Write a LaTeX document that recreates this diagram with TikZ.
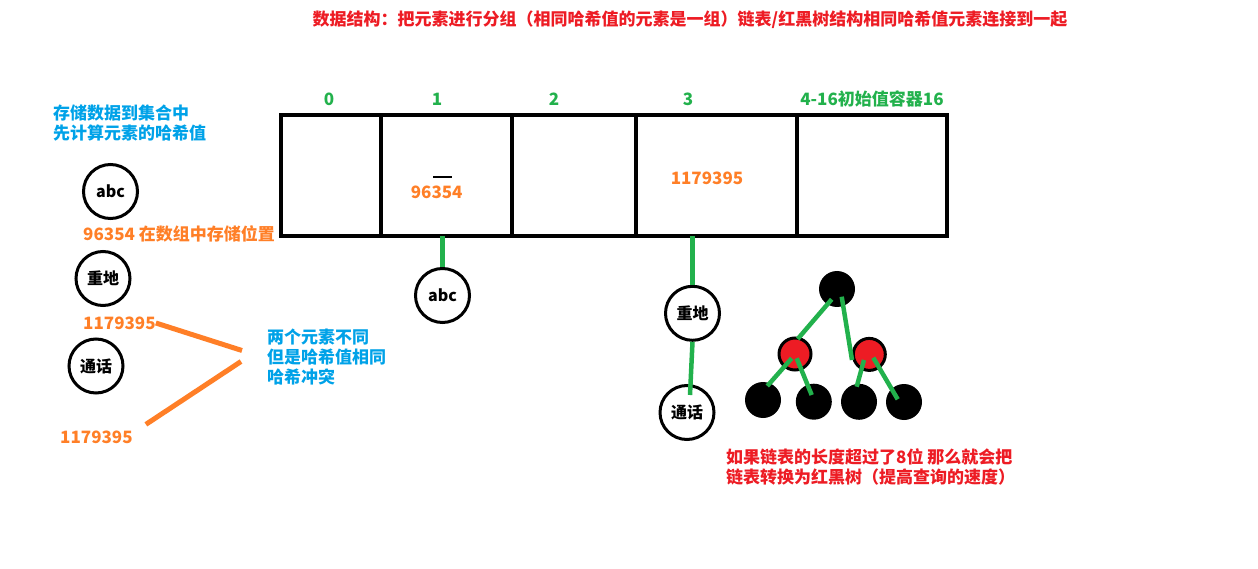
\documentclass[tikz,border=0pt]{standalone}
\usepackage{fontspec}
\setmainfont{Noto Sans CJK SC}
\usetikzlibrary{positioning,calc}
\definecolor{hashred}{HTML}{ED1C24}
\definecolor{hashblue}{HTML}{00A2E8}
\definecolor{hashorange}{HTML}{FF7F27}
\definecolor{hashgreen}{HTML}{22B14C}
\tikzset{
  cell/.style={rectangle,draw=black,line width=4pt,minimum height=120.5pt,inner sep=0pt,outer sep=0pt},
  elem/.style={circle,draw=black,line width=3pt,minimum size=54pt,inner sep=0pt,font=\fontsize{16}{18}\selectfont\bfseries},
  blk/.style={circle,fill=black,minimum size=36pt,inner sep=0pt},
  redn/.style={circle,draw=black,fill=hashred,line width=3pt,minimum size=32pt,inner sep=0pt},
  gl/.style={draw=hashgreen,line width=4.5pt},
  ol/.style={draw=hashorange,line width=5pt},
  txt/.style={inner sep=0pt,align=left,font=\fontsize{17}{20}\selectfont\bfseries},
  bnote/.style={txt,text=hashblue},
  onote/.style={txt,text=hashorange},
  gnote/.style={txt,text=hashgreen},
  rnote/.style={txt,text=hashred},
}
\begin{document}
\begin{tikzpicture}[x=1pt,y=-1pt]
\useasboundingbox (0,0) rectangle (1258,569);
% title
\node[rnote] (title) at (690,20) {数据结构：把元素进行分组（相同哈希值的元素是一组）链表/红黑树结构相同哈希值元素连接到一起};
% left: hashing the elements
\node[bnote,anchor=west] (intro) at (53,123) {存储数据到集合中\\先计算元素的哈希值};
\node[elem] (abcL) at (110.5,191.5) {abc};
\node[onote,anchor=west] (posL) at (83,234) {96354\ 在数组中存储位置};
\node[elem] (zdL) at (103,278.5) {重地};
\node[onote,anchor=west] (hashA) at (83,323) {1179395};
\node[elem] (thL) at (96,366) {通话};
\node[onote,anchor=west] (hashB) at (60,437) {1179395};
\node[bnote,anchor=west] (clash) at (267,357) {两个元素不同\\但是哈希值相同\\哈希冲突};
\coordinate (meetA) at (242,350.5);
\coordinate (meetB) at (241,361.5);
\draw[ol](hashA.east)--(meetA);\draw[ol]($(hashB.north east)+(13,-6)$)--(meetB);
% array
\node[cell,minimum width=100pt] (c0) at (330.5,175.75) {};
\node[cell,minimum width=131pt,right=0pt of c0] (c1) {};
\node[cell,minimum width=124pt,right=0pt of c1] (c2) {};
\node[cell,minimum width=161.5pt,right=0pt of c2] (c3) {};
\node[cell,minimum width=149.5pt,right=0pt of c3] (c4) {};
\foreach \n/\x in {0/329,1/437,2/554,3/688}
  \node[gnote] (i\n) at (\x,99) {\n};
\node[gnote] (i4) at (872,99) {4-16初始值容器16};
\node[onote] (h1) at (436.7,192) {96354};
\draw[line width=2pt] (433,177) -- (452,177);
\node[onote] (h3) at (707,178) {1179395};
% chains
\node[elem] (abc) at (442.5,295.5) {abc};
\node[elem] (zd) at (692.5,313.3) {重地};
\node[elem] (th) at (687,412.5) {通话};
\draw[gl](abc.north)--(abc.north |- c1.south);
\draw[gl](zd.north)--(zd.north |- c3.south);
\draw[gl](zd.south)--($(th.north)+(3,11)$);
% red-black tree
\node[blk] (root) at (837,289) {};
\node[redn] (rl) at (795,354) {};
\node[redn] (rr) at (869.3,354.4) {};
\node[blk] (l1) at (763,400) {};
\node[blk] (l2) at (813.8,401.7) {};
\node[blk] (l3) at (859,401.8) {};
\node[blk] (l4) at (904,402) {};
\draw[gl]($(root)+(-5.3,10.3)$)--($(rl)+(2.7,-15)$);\draw[gl]($(root)+(4.7,7.7)$)--($(rr)+(-17.3,5.6)$);
\draw[gl]($(rl)+(-3.3,4.3)$)--($(l1)+(4.3,-14)$);\draw[gl]($(rl)+(1.7,4.3)$)--($(l2)+(-2.1,-6.7)$);
\draw[gl]($(rr)+(-5.3,5.6)$)--($(l3)+(-2.3,-15.1)$);\draw[gl]($(rr)+(4,3.3)$)--($(l4)+(-6.3,-2.7)$);
\node[rnote,anchor=west] (rbnote) at (726,467) {如果链表的长度超过了8位\ 那么就会把\\链表转换为红黑树（提高查询的速度）};
\end{tikzpicture}
\end{document}
